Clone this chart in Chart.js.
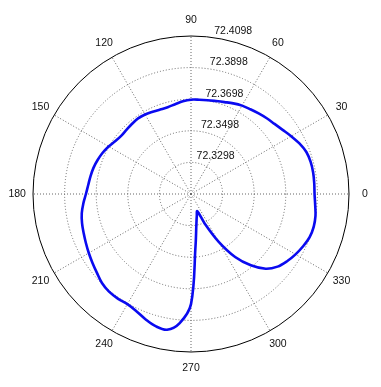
<!DOCTYPE html>
<html>
<head>
<meta charset="utf-8">
<script src="https://cdn.jsdelivr.net/npm/chart.js@4.4.1/dist/chart.umd.min.js"></script>
<style>
html,body{margin:0;padding:0;background:#fff;}
#wrap{width:381px;height:387px;}
canvas{display:block;}
</style>
</head>
<body>
<div id="wrap"><canvas id="c" width="381" height="387"></canvas></div>
<script>
// ---- data (polar: angle in degrees, radius in data units) ----
const angleStep = 5;
const angles = [0,5,10,15,20,25,30,35,40,45,50,55,60,65,70,75,80,85,
  90,95,100,105,110,115,120,125,130,135,140,145,150,155,160,165,170,175,
  180,185,190,195,200,205,210,215,220,225,230,235,240,245,250,255,260,265,
  270,275,280,285,290,295,300,305,310,315,320,325,330,335,340,345,350,355];
const radiusValues = [72.3880,72.3881,72.3883,72.3882,72.3875,72.3855,72.3830,72.3806,72.3788,72.3776,72.3764,72.3753,72.3744,72.3731,72.3717,72.3707,72.3701,72.3697,
  72.3695,72.3687,72.3675,72.3667,72.3667,72.3672,72.3679,72.3682,72.3678,72.3674,72.3673,72.3682,72.3700,72.3715,72.3727,72.3737,72.3744,72.3751,
  72.3763,72.3782,72.3800,72.3812,72.3821,72.3832,72.3845,72.3859,72.3875,72.3895,72.3905,72.3906,72.3903,72.3916,72.3941,72.3964,72.3970,72.3918,
  72.3795,72.3427,72.3294,72.3240,72.3214,72.3307,72.3446,72.3585,72.3687,72.3767,72.3813,72.3840,72.3862,72.3881,72.3897,72.3902,72.3898,72.3887];
const rMin = 72.3098;
const rMax = 72.4098;
const rTickLabels = [72.3298, 72.3498, 72.3698, 72.3898, 72.4098];
const angleTickLabels = [0, 30, 60, 90, 120, 150, 180, 210, 240, 270, 300, 330];

// radar goes clockwise from startAngle; reorder so angles run counter-clockwise from 0 at right
const n = angles.length;
const orderedAngles = [];
const orderedValues = [];
for (let i = 0; i < n; i++) {
  const a = (360 - i * angleStep) % 360;
  orderedAngles.push(a);
  orderedValues.push(radiusValues[angles.indexOf(a)]);
}

const FONT = '10.5px "Liberation Sans", Arial, Helvetica, sans-serif';

const textPlugin = {
  id: 'polarText',
  beforeDatasetsDraw(chart) {
    const s = chart.scales.r;
    const ctx = chart.ctx;
    ctx.save();
    ctx.font = FONT;
    ctx.fillStyle = '#111';
    ctx.textAlign = 'center';
    ctx.textBaseline = 'middle';
    angleTickLabels.forEach(a => {
      const idx = orderedAngles.indexOf(a);
      const p = s.getPointPosition(idx, s.drawingArea * 1.1);
      ctx.fillText(String(a), p.x, p.y);
    });
    ctx.textAlign = 'left';
    ctx.textBaseline = 'alphabetic';
    const th = 82 * Math.PI / 180;
    const rinc = s.drawingArea / rTickLabels.length;
    rTickLabels.forEach(v => {
      const d = s.getDistanceFromCenterForValue(v) + rinc / 20;
      const x = s.xCenter + d * Math.cos(th) + 1;
      const y = s.yCenter - d * Math.sin(th) - 2;
      ctx.fillText(v.toFixed(4), x, y);
    });
    ctx.restore();
  }
};

new Chart(document.getElementById('c'), {
  type: 'radar',
  data: {
    labels: orderedAngles.map(String),
    datasets: [{
      data: orderedValues,
      borderColor: '#0a0af0',
      borderWidth: 2.6,
      pointRadius: 0,
      fill: false,
      tension: 0.35,
      backgroundColor: 'rgba(0,0,0,0)'
    }]
  },
  options: {
    responsive: false,
    animation: false,
    devicePixelRatio: 1,
    layout: { padding: { left: 33, right: 32, top: 36, bottom: 35 } },
    plugins: { legend: { display: false }, tooltip: { enabled: false } },
    scales: {
      r: {
        min: rMin,
        max: rMax,
        startAngle: 90,
        ticks: { display: false, stepSize: 0.02 },
        pointLabels: { display: false },
        grid: {
          circular: true,
          lineWidth: 1,
          color: c => (c.index === 5 ? '#000' : '#666')
        },
        border: { dash: c => (c.index === 5 ? [] : [1, 2]) },
        angleLines: {
          display: true,
          color: '#666',
          borderDash: [1, 2],
          lineWidth: c => (orderedAngles[c.index] % 30 === 0 ? 1 : 0)
        }
      }
    }
  },
  plugins: [textPlugin]
});
</script>
</body>
</html>
